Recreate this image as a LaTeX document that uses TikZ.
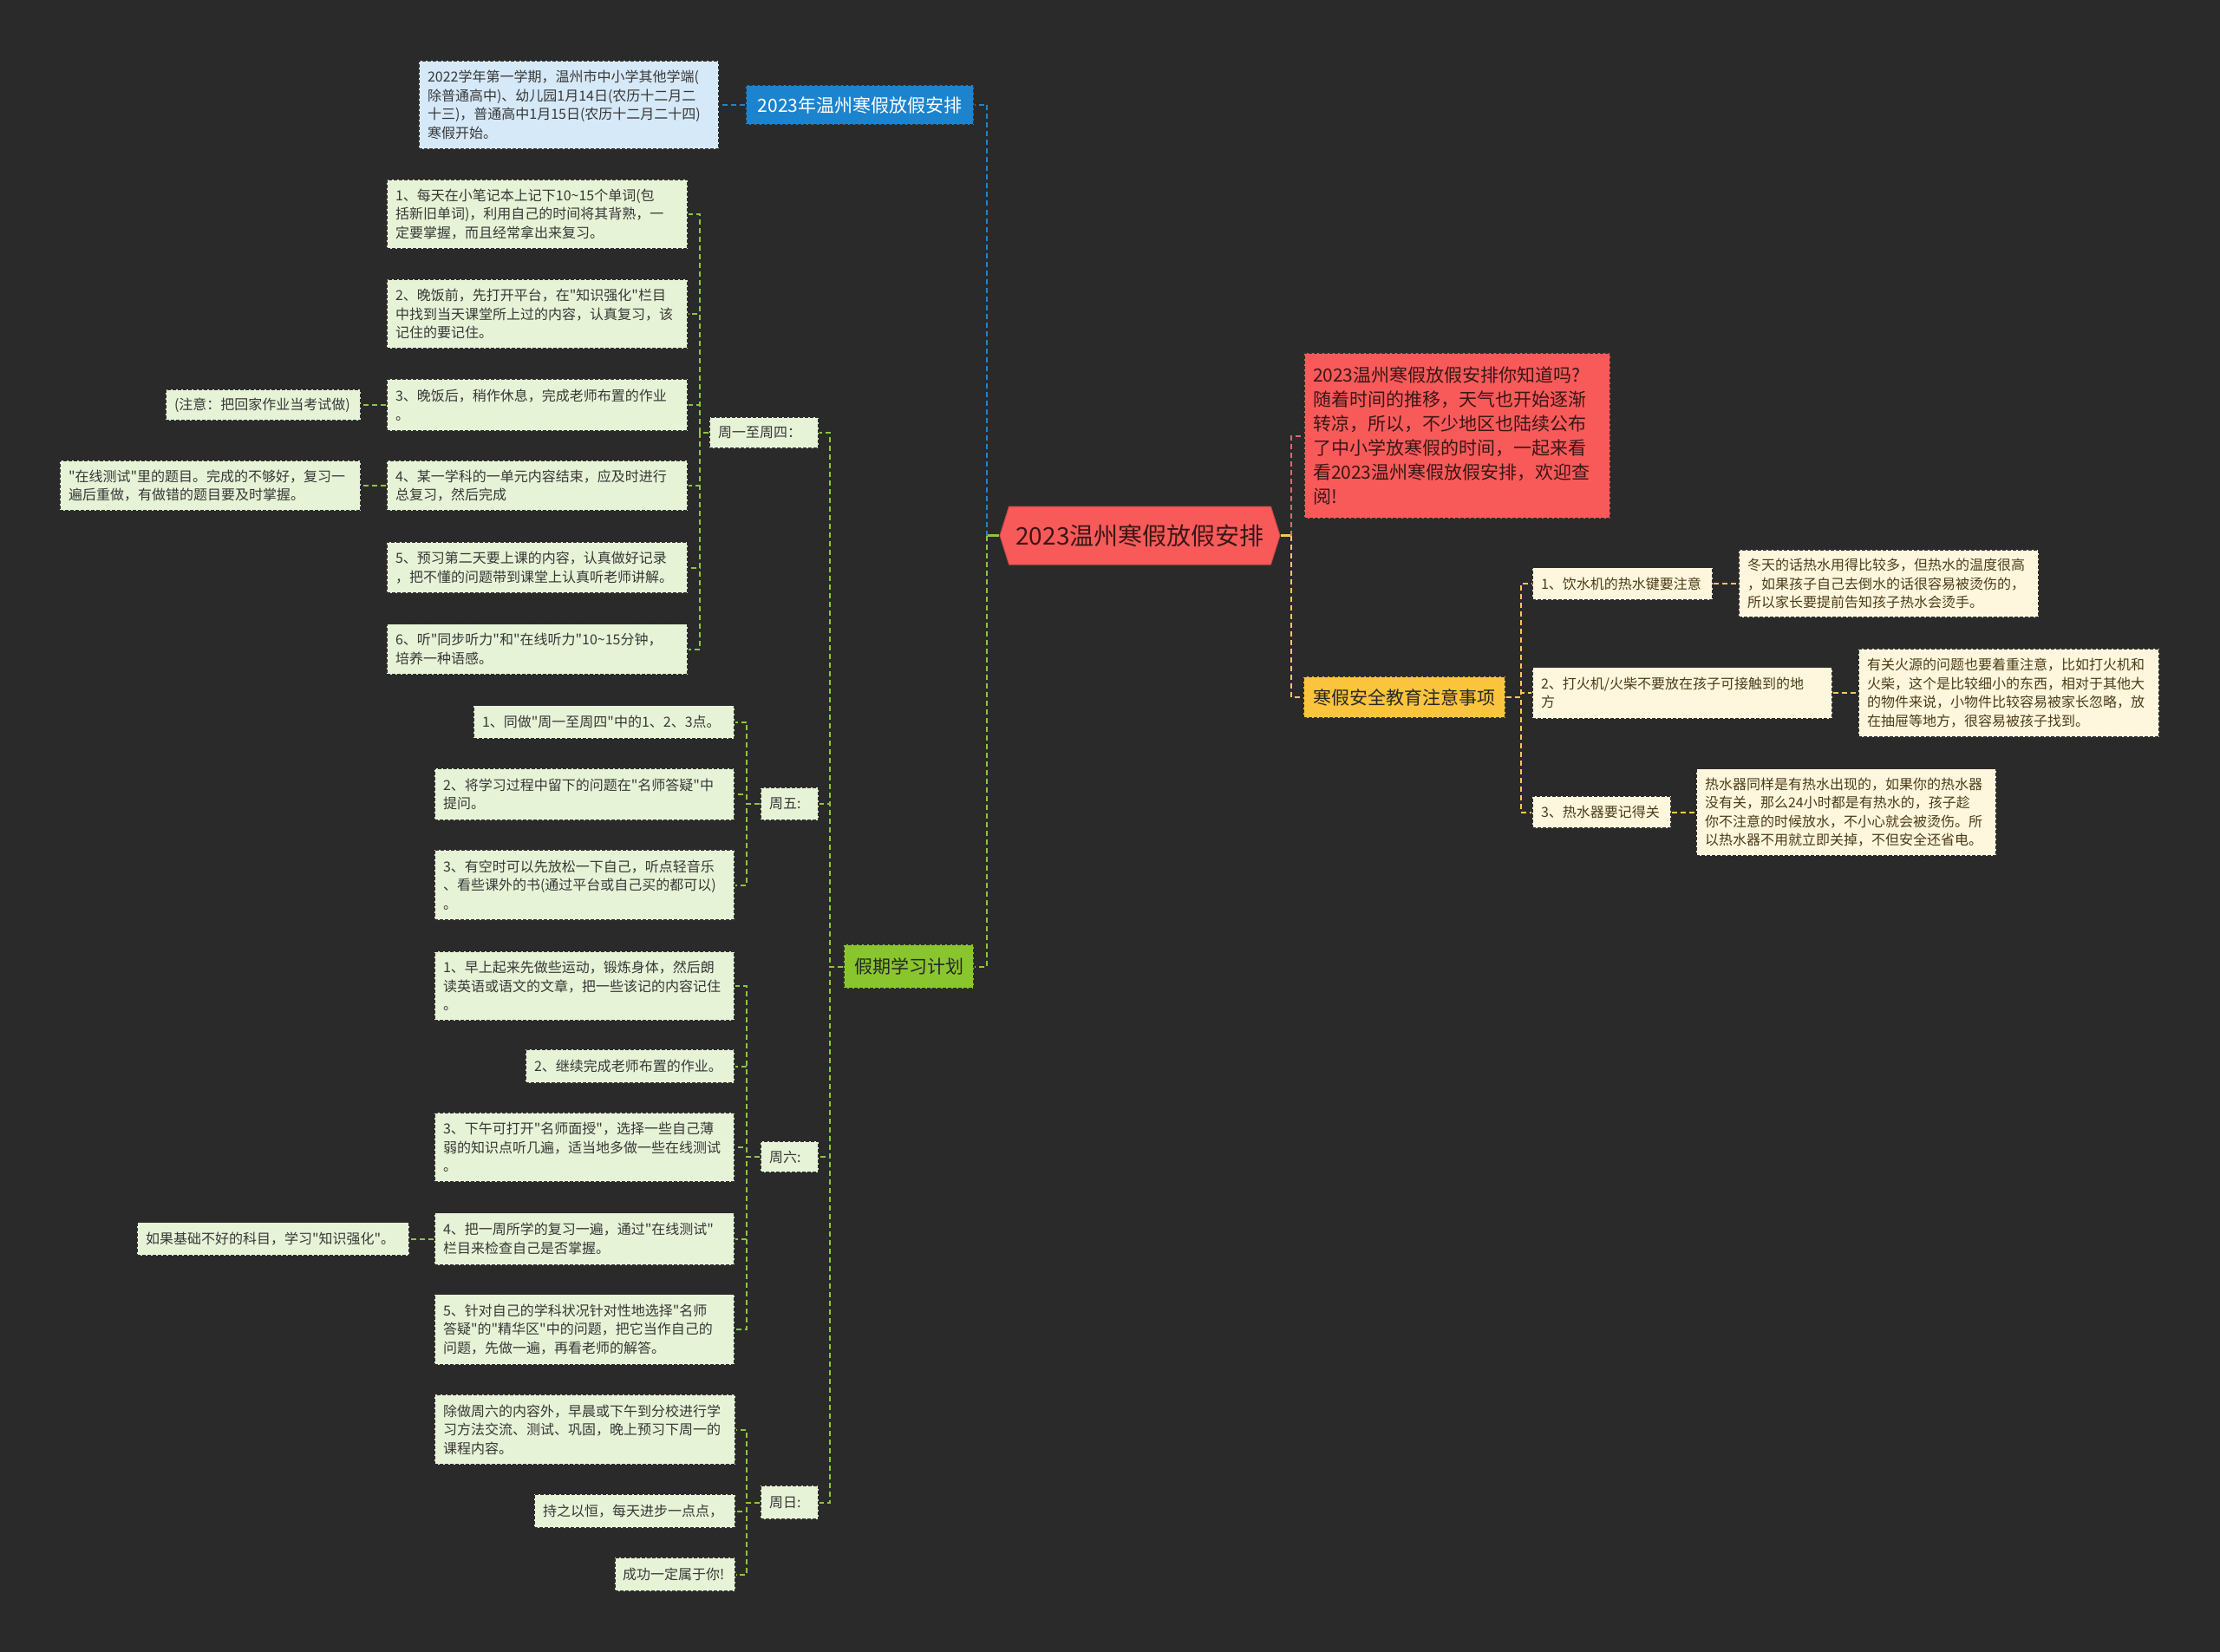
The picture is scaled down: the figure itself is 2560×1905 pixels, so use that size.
\documentclass[tikz,border=0pt]{standalone}
\usepackage{fontspec}
\setmainfont{Noto Sans CJK SC}[Ligatures=TeXOff]
\usetikzlibrary{shapes.symbols}
\definecolor{bg}{RGB}{42,42,42}
\definecolor{bord}{RGB}{45,45,45}
\definecolor{lgfill}{RGB}{231,243,214}
\definecolor{lyfill}{RGB}{255,247,221}
\definecolor{lbfill}{RGB}{214,233,248}
\definecolor{redfill}{RGB}{248,90,90}
\definecolor{bluefill}{RGB}{28,132,206}
\definecolor{greenfill}{RGB}{137,198,46}
\definecolor{yellowfill}{RGB}{250,196,60}
\definecolor{gcol}{RGB}{141,198,63}
\definecolor{ycol}{RGB}{245,202,82}
\definecolor{bcol}{RGB}{30,132,204}
\definecolor{rcol}{RGB}{232,100,110}
\definecolor{darktext}{RGB}{55,55,55}
\definecolor{browntext}{RGB}{75,60,25}
\definecolor{redtext}{RGB}{60,22,22}
\begin{document}
\begin{tikzpicture}[x=1pt,y=-1pt,
  bx/.style={draw=bord, line width=1.2pt, dash pattern=on 4pt off 2pt, inner xsep=10pt, inner ysep=0pt, align=left, anchor=center},
  sm/.style={font=\fontsize{16pt}{21.5pt}\selectfont},
  big/.style={font=\fontsize{21pt}{28pt}\selectfont},
  gbx/.style={bx, sm, fill=lgfill, text=darktext},
  ybx/.style={bx, sm, fill=lyfill, text=browntext},
  lbbx/.style={bx, sm, fill=lbfill, text=darktext},
  topic/.style={bx, big, align=center, inner xsep=0pt},
  cline/.style={line width=2pt, dash pattern=on 6pt off 4pt},
  gline/.style={cline, draw=gcol},
  yline/.style={cline, draw=ycol},
  bline/.style={cline, draw=bcol},
  rline/.style={cline, draw=rcol}
]
\fill[bg] (0,0) rectangle (2560,1905);
\useasboundingbox (0,0) rectangle (2560,1905);

% root
\node[shape=signal, signal to=west and east, signal pointer angle=145, fill=redfill, draw=redfill!80!black, line width=1pt, minimum width=323pt, minimum height=67pt, inner sep=0pt, text=redtext, font=\fontsize{28pt}{30pt}\selectfont] (root) at (1314.5,617.5) {2023温州寒假放假安排};
\coordinate (jl) at (1138,617.5);
\coordinate (jr) at (1489,617.5);

% left main topics
\node[topic, fill=bluefill, text=white, minimum width=263pt, minimum height=46pt] (blue) at (991.5,121) {2023年温州寒假放假安排};
\node[lbbx, text width=326pt, minimum height=102pt] (bluetxt) at (656,121) {2022学年第一学期，温州市中小学其他学端(\\除普通高中)、幼儿园1月14日(农历十二月二\\十三)，普通高中1月15日(农历十二月二十四)\\寒假开始。};
\node[topic, fill=greenfill, text=black!85, minimum width=150pt, minimum height=51pt] (green) at (1048,1114.5) {假期学习计划};

% weekday nodes
\node[gbx, text width=106pt, minimum height=36pt] (w14) at (881,499) {周一至周四：};
\node[gbx, text width=47pt, minimum height=38pt] (w5) at (910.5,927) {周五:};
\node[gbx, text width=47pt, minimum height=36pt] (w6) at (910.5,1334) {周六:};
\node[gbx, text width=47pt, minimum height=39pt] (w7) at (910.5,1732.5) {周日:};

% Mon-Thu children
\node[gbx, text width=327pt, minimum height=80pt] (a1) at (619.5,247) {1、每天在小笔记本上记下10\textasciitilde15个单词(包\\括新旧单词)，利用自己的时间将其背熟，一\\定要掌握，而且经常拿出来复习。};
\node[gbx, text width=327pt, minimum height=80pt] (a2) at (619.5,362) {2、晚饭前，先打开平台，在"知识强化"栏目\\中找到当天课堂所上过的内容，认真复习，该\\记住的要记住。};
\node[gbx, text width=327pt, minimum height=60pt] (a3) at (619.5,467) {3、晚饭后，稍作休息，完成老师布置的作业\\。};
\node[gbx, text width=205pt, minimum height=36pt] (a3c) at (303.5,467) {(注意：把回家作业当考试做)};
\node[gbx, text width=327pt, minimum height=58pt] (a4) at (619.5,560) {4、某一学科的一单元内容结束，应及时进行\\总复习，然后完成};
\node[gbx, text width=327pt, minimum height=58pt] (a4c) at (242.5,560) {"在线测试"里的题目。完成的不够好，复习一\\遍后重做，有做错的题目要及时掌握。};
\node[gbx, text width=327pt, minimum height=59pt] (a5) at (619.5,654.5) {5、预习第二天要上课的内容，认真做好记录\\，把不懂的问题带到课堂上认真听老师讲解。};
\node[gbx, text width=327pt, minimum height=58pt] (a6) at (619.5,748.5) {6、听"同步听力"和"在线听力"10\textasciitilde15分钟，\\培养一种语感。};

% Friday children
\node[gbx, text width=281pt, minimum height=38pt] (b1) at (696.5,832.5) {1、同做"周一至周四"中的1、2、3点。};
\node[gbx, text width=326pt, minimum height=60pt] (b2) at (674,916) {2、将学习过程中留下的问题在"名师答疑"中\\提问。};
\node[gbx, text width=326pt, minimum height=81pt] (b3) at (674,1020.5) {3、有空时可以先放松一下自己，听点轻音乐\\、看些课外的书(通过平台或自己买的都可以)\\。};

% Saturday children
\node[gbx, text width=326pt, minimum height=80pt] (c1) at (674,1137) {1、早上起来先做些运动，锻炼身体，然后朗\\读英语或语文的文章，把一些该记的内容记住\\。};
\node[gbx, text width=221pt, minimum height=39pt] (c2) at (726.5,1229.5) {2、继续完成老师布置的作业。};
\node[gbx, text width=326pt, minimum height=80pt] (c3) at (674,1323) {3、下午可打开"名师面授"，选择一些自己薄\\弱的知识点听几遍，适当地多做一些在线测试\\。};
\node[gbx, text width=326pt, minimum height=60pt] (c4) at (674,1428.5) {4、把一周所学的复习一遍，通过"在线测试"\\栏目来检查自己是否掌握。};
\node[gbx, text width=294pt, minimum height=38pt] (c4c) at (315,1428.5) {如果基础不好的科目，学习"知识强化"。};
\node[gbx, text width=326pt, minimum height=81pt] (c5) at (674,1533) {5、针对自己的学科状况针对性地选择"名师\\答疑"的"精华区"中的问题，把它当作自己的\\问题，先做一遍，再看老师的解答。};

% Sunday children
\node[gbx, text width=327pt, minimum height=81pt] (d1) at (674.5,1648.5) {除做周六的内容外，早晨或下午到分校进行学\\习方法交流、测试、巩固，晚上预习下周一的\\课程内容。};
\node[gbx, text width=212pt, minimum height=39pt] (d2) at (732,1742.5) {持之以恒，每天进步一点点，};
\node[gbx, text width=121pt, minimum height=39pt, inner xsep=9pt] (d3) at (778.5,1815.5) {成功一定属于你!};

% right side
\node[bx, big, fill=redfill, text=redtext, text width=333pt, minimum height=191pt] (redtxt) at (1680.5,502.5) {2023温州寒假放假安排你知道吗?\\随着时间的推移，天气也开始逐渐\\转凉，所以，不少地区也陆续公布\\了中小学放寒假的时间，一起来看\\看2023温州寒假放假安排，欢迎查\\阅!};
\node[topic, fill=yellowfill, text=black!85, minimum width=233pt, minimum height=48pt] (yellow) at (1619.5,804) {寒假安全教育注意事项};

\node[ybx, text width=188pt, minimum height=37pt] (y1) at (1871,673) {1、饮水机的热水键要注意};
\node[ybx, text width=326pt, minimum height=78pt] (y1c) at (2178,673) {冬天的话热水用得比较多，但热水的温度很高\\，如果孩子自己去倒水的话很容易被烫伤的，\\所以家长要提前告知孩子热水会烫手。};
\node[ybx, text width=326pt, minimum height=59pt] (y2) at (1940,799) {2、打火机/火柴不要放在孩子可接触到的地\\方};
\node[ybx, text width=327pt, minimum height=102pt] (y2c) at (2316.5,799) {有关火源的问题也要着重注意，比如打火机和\\火柴，这个是比较细小的东西，相对于其他大\\的物件来说，小物件比较容易被家长忽略，放\\在抽屉等地方，很容易被孩子找到。};
\node[ybx, text width=140pt, minimum height=37pt] (y3) at (1847,936.5) {3、热水器要记得关};
\node[ybx, text width=326pt, minimum height=100pt] (y3c) at (2129,936.5) {热水器同样是有热水出现的，如果你的热水器\\没有关，那么24小时都是有热水的，孩子趁\\你不注意的时候放水，不小心就会被烫伤。所\\以热水器不用就立即关掉，不但安全还省电。};

% connectors: root
\draw[gcol, line width=2.5pt] (root.west) -- (jl);
\draw[ycol, line width=2.5pt] (root.east) -- (jr);
\draw[bline] (jl) |- (blue.east);
\draw[gline] (jl) |- (green.east);
\draw[rline] (jr) |- (redtxt.west);
\draw[yline] (jr) |- (yellow.west);
\draw[bline] (blue.west) -- (bluetxt.east);

% green branch
\foreach \n in {w14,w5,w6,w7}
  \draw[gline] (green.west) -- ++(-15,0) |- (\n.east);
\foreach \n in {a1,a2,a3,a4,a5,a6}
  \draw[gline] (w14.west) -- ++(-10,0) |- (\n.east);
\draw[gline] (a3.west) -- (a3c.east);
\draw[gline] (a4.west) -- (a4c.east);
\foreach \n in {b1,b2,b3}
  \draw[gline] (w5.west) -- ++(-15,0) |- (\n.east);
\foreach \n in {c1,c2,c3,c4,c5}
  \draw[gline] (w6.west) -- ++(-15,0) |- (\n.east);
\draw[gline] (c4.west) -- (c4c.east);
\foreach \n in {d1,d2,d3}
  \draw[gline] (w7.west) -- ++(-15,0) |- (\n.east);

% yellow branch
\foreach \n in {y1,y2,y3}
  \draw[yline] (yellow.east) -- ++(17,0) |- (\n.west);
\draw[yline] (y1.east) -- (y1c.west);
\draw[yline] (y2.east) -- (y2c.west);
\draw[yline] (y3.east) -- (y3c.west);
\end{tikzpicture}
\end{document}
